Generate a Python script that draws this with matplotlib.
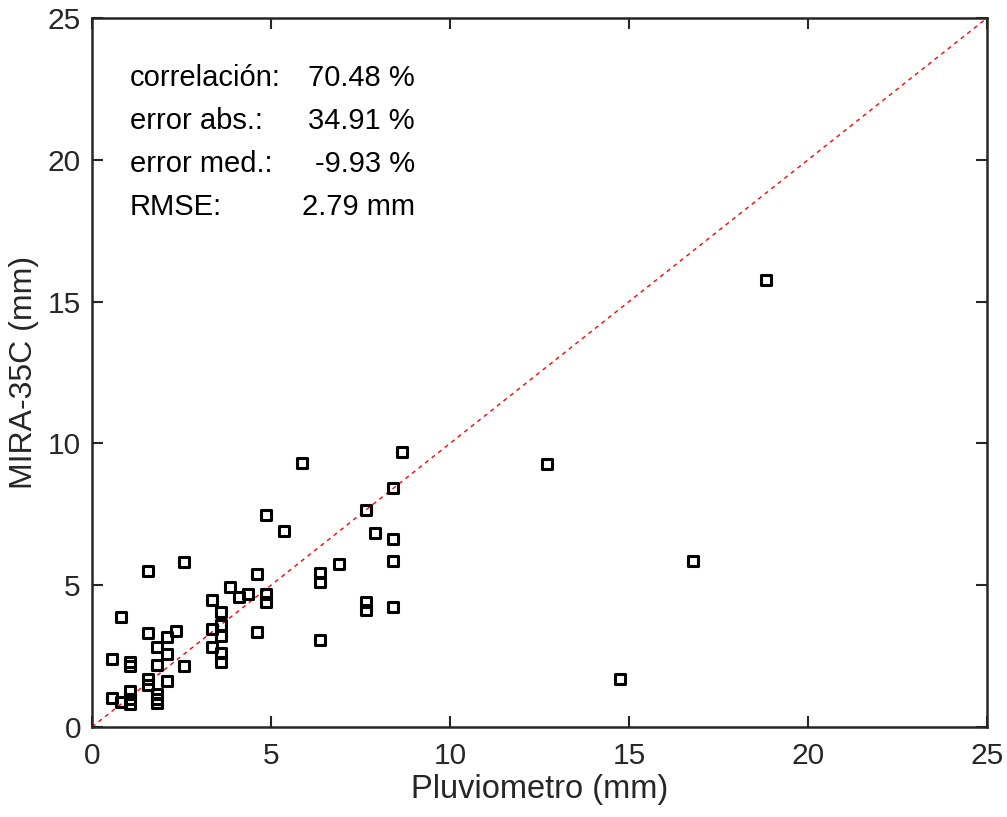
import numpy as np
import matplotlib.pyplot as plt
from matplotlib.markers import MarkerStyle

plt.rcParams['font.family'] = ['Liberation Sans', 'DejaVu Sans']

# Pluviometro (x) vs MIRA-35C (y), mm
pluvio = [18.83, 12.71, 16.79, 14.75, 8.67, 5.87, 8.40, 7.64, 4.86, 5.36,
          7.91, 8.40, 6.90, 8.40, 6.37, 6.37, 4.60, 2.58, 1.57, 7.64,
          7.64, 8.40, 6.37, 4.60, 4.85, 4.85, 4.37, 4.11, 3.85, 3.34,
          3.60, 3.60, 3.34, 3.60, 3.34, 3.60, 3.60, 1.57, 2.35, 2.09,
          1.81, 2.09, 1.81, 2.58, 0.81, 0.55, 1.06, 1.06, 1.57, 1.57,
          2.09, 0.55, 0.81, 1.06, 1.06, 1.06, 1.81, 1.81, 1.81]
mira = [15.76, 9.27, 5.85, 1.69, 9.71, 9.30, 8.42, 7.65, 7.48, 6.92,
        6.85, 6.63, 5.75, 5.86, 5.44, 5.10, 5.39, 5.82, 5.50, 4.42,
        4.13, 4.22, 3.07, 3.36, 4.69, 4.42, 4.69, 4.60, 4.93, 4.48,
        4.07, 3.60, 3.44, 3.21, 2.81, 2.62, 2.30, 3.30, 3.40, 3.18,
        2.81, 2.57, 2.19, 2.15, 3.89, 2.39, 2.30, 2.15, 1.68, 1.48,
        1.63, 1.01, 0.89, 1.28, 0.98, 0.81, 1.16, 0.98, 0.84]

stat_names = ['correlación:', 'error abs.:', 'error med.:', 'RMSE:']
stat_values = ['70.48 %', '34.91 %', '-9.93 %', '2.79 mm']

fig = plt.figure(figsize=(10.07, 8.17), dpi=100)
ax = fig.add_axes([92 / 1007, 1 - 727 / 817, 895 / 1007, 709 / 817])

ax.plot([0, 25], [0, 25], color='red', linestyle=(0, (3, 3)), linewidth=1.0)
ax.plot(pluvio, mira, linestyle='none',
        marker=MarkerStyle('s', joinstyle='round'), markersize=7,
        markerfacecolor='none', markeredgecolor='black', markeredgewidth=2.2)

for i, (name, val) in enumerate(zip(stat_names, stat_values)):
    yy = 22.9 - i * 1.52
    ax.text(1.06, yy, name, fontsize=21, va='center', ha='left')
    ax.text(9.02, yy, val, fontsize=21, va='center', ha='right')

ax.set_xlim(0, 25)
ax.set_ylim(0, 25)
ax.set_xticks(np.arange(0, 26, 5))
ax.set_yticks(np.arange(0, 26, 5))
ax.tick_params(direction='in', top=True, right=True, labelsize=21.5,
               length=8, width=1.5, colors='#262626')
ax.tick_params(axis='x', pad=11)
ax.tick_params(axis='y', pad=8)
for s in ax.spines.values():
    s.set_linewidth(1.8)
    s.set_color('#262626')

ax.set_xlabel('Pluviometro (mm)', fontsize=23.5, color='#262626', labelpad=3)
ax.set_ylabel('MIRA-35C (mm)', fontsize=23, color='#262626', labelpad=6)

fig.savefig('out.png', dpi=100)
